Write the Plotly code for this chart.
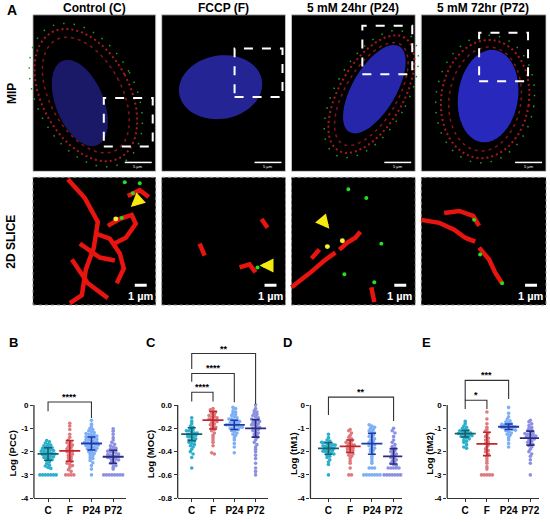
"""Colocalisation figure: microscopy panels (A) and log coefficient scatter plots (B-E)."""

from __future__ import annotations

import numpy as np
import plotly.graph_objects as go

W, H = 550, 522
FONT = "Liberation Sans, Arial, sans-serif"

# ---- data ----------------------------------------------------------------
groups = ["C", "F", "P24", "P72"]
conditions = ["Control (C)", "FCCP (F)", "5 mM 24hr (P24)", "5 mM 72hr (P72)"]

pcc_c = [-1.52, -1.58, -1.63, -1.68, -1.72, -1.75, -1.78, -1.8, -1.83, -1.86, -1.88, -1.9,
         -1.93, -1.95, -1.98, -2.0, -2.02, -2.05, -2.08, -2.1, -2.12, -2.15, -2.18, -2.2,
         -2.22, -2.25, -2.28, -2.3, -2.35, -2.4, -2.45, -2.52, -2.58, -2.62, -2.68, -2.72,
         -3.0, -3.0, -3.0, -3.0, -3.0, -3.0, -3.0]
pcc_f = [-0.78, -0.9, -1.05, -1.25, -1.38, -1.5, -1.58, -1.62, -1.68, -1.72, -1.78, -1.82,
         -1.88, -1.92, -1.97, -2.0, -2.05, -2.1, -2.15, -2.2, -2.25, -2.3, -2.38, -2.42,
         -2.5, -2.55, -2.6, -2.68, -2.78, -2.85, -3.0, -3.0, -3.0, -3.0]
pcc_p24 = [-0.65, -0.82, -0.92, -1.0, -1.05, -1.1, -1.15, -1.18, -1.22, -1.25, -1.28, -1.3,
           -1.33, -1.36, -1.38, -1.4, -1.43, -1.46, -1.48, -1.5, -1.53, -1.56, -1.58, -1.6,
           -1.62, -1.65, -1.67, -1.7, -1.72, -1.75, -1.78, -1.8, -1.82, -1.85, -1.88, -1.9,
           -1.93, -1.96, -2.0, -2.04, -2.08, -2.12, -2.18, -2.25, -2.3, -2.38, -2.48, -2.6,
           -2.75, -3.0]
pcc_p72 = [-1.02, -1.12, -1.25, -1.4, -1.5, -1.6, -1.68, -1.75, -1.8, -1.85, -1.88, -1.92,
           -1.95, -1.98, -2.0, -2.03, -2.06, -2.1, -2.12, -2.15, -2.18, -2.2, -2.22, -2.25,
           -2.28, -2.3, -2.33, -2.36, -2.4, -2.45, -2.5, -2.55, -2.6, -2.68, -2.75,
           -3.0, -3.0, -3.0, -3.0, -3.0, -3.0, -3.0, -3.0]

moc_c = [-0.11, -0.14, -0.16, -0.18, -0.19, -0.2, -0.21, -0.22, -0.22, -0.23, -0.24, -0.24,
         -0.25, -0.25, -0.26, -0.26, -0.27, -0.27, -0.28, -0.29, -0.3, -0.3, -0.31, -0.32,
         -0.33, -0.34, -0.35, -0.36, -0.38, -0.4, -0.42, -0.45, -0.54]
moc_f = [-0.03, -0.04, -0.05, -0.06, -0.07, -0.08, -0.09, -0.1, -0.1, -0.11, -0.12, -0.12,
         -0.13, -0.14, -0.15, -0.16, -0.17, -0.18, -0.19, -0.2, -0.21, -0.22, -0.24, -0.26,
         -0.28, -0.3, -0.32, -0.35, -0.41, -0.42]
moc_p24 = [-0.02, -0.03, -0.05, -0.06, -0.07, -0.08, -0.09, -0.1, -0.11, -0.12, -0.12, -0.13,
           -0.14, -0.14, -0.15, -0.15, -0.16, -0.16, -0.17, -0.17, -0.17, -0.18, -0.18, -0.19,
           -0.19, -0.2, -0.2, -0.21, -0.21, -0.22, -0.23, -0.24, -0.25, -0.26, -0.28, -0.3,
           -0.33, -0.36, -0.41]
moc_p72 = [0.0, -0.03, -0.05, -0.06, -0.07, -0.08, -0.09, -0.1, -0.11, -0.12, -0.13, -0.13,
           -0.14, -0.15, -0.15, -0.16, -0.17, -0.17, -0.18, -0.19, -0.2, -0.2, -0.21, -0.22,
           -0.23, -0.24, -0.25, -0.26, -0.27, -0.28, -0.3, -0.32, -0.34, -0.36, -0.38, -0.4,
           -0.43, -0.46, -0.5, -0.54, -0.57, -0.6]

tm1_c = [-1.25, -1.4, -1.5, -1.55, -1.6, -1.62, -1.65, -1.68, -1.7, -1.72, -1.75, -1.78,
         -1.8, -1.82, -1.85, -1.88, -1.9, -1.92, -1.95, -1.98, -2.0, -2.02, -2.05, -2.1,
         -2.15, -2.2, -2.25, -2.35, -2.45, -2.55, -3.0]
tm1_f = [-1.05, -1.1, -1.2, -1.3, -1.38, -1.45, -1.5, -1.55, -1.6, -1.65, -1.7, -1.72,
         -1.75, -1.8, -1.85, -1.88, -1.9, -1.95, -2.0, -2.05, -2.1, -2.15, -2.2, -2.3,
         -2.4, -2.5, -2.7, -3.0, -3.0]
tm1_p24 = [-0.85, -0.9, -0.95, -1.0, -1.05, -1.1, -1.15, -1.2, -1.25, -1.3, -1.35, -1.4,
           -1.45, -1.5, -1.55, -1.6, -1.65, -1.7, -1.75, -1.8, -1.85, -1.9, -1.95, -2.0,
           -2.1, -2.2, -2.3, -2.4, -2.5, -2.7, -2.7, -2.7, -3.0, -3.0, -3.0, -3.0, -3.0,
           -3.0, -3.0]
tm1_p72 = [-1.0, -1.1, -1.2, -1.35, -1.5, -1.6, -1.7, -1.78, -1.85, -1.9, -1.95, -2.0,
           -2.05, -2.1, -2.15, -2.2, -2.25, -2.3, -2.35, -2.4, -2.45, -2.5, -2.55, -2.6,
           -2.7, -2.7, -2.7, -2.7, -2.7, -3.0, -3.0, -3.0, -3.0, -3.0, -3.0, -3.0, -3.0]

tm2_c = [-0.7, -0.8, -0.9, -0.95, -1.0, -1.05, -1.08, -1.1, -1.12, -1.15, -1.18, -1.2,
         -1.22, -1.24, -1.25, -1.27, -1.3, -1.32, -1.35, -1.38, -1.4, -1.45, -1.5, -1.55,
         -1.6, -1.7, -1.8, -1.85]
tm2_f = [-0.3, -0.6, -0.8, -0.95, -1.05, -1.12, -1.2, -1.28, -1.35, -1.42, -1.5, -1.58,
         -1.65, -1.72, -1.8, -1.88, -1.95, -2.0, -2.1, -2.2, -2.3, -2.4, -2.5, -2.65,
         -2.75, -3.0, -3.0, -3.0, -3.0, -3.0]
tm2_p24 = [-0.1, -0.35, -0.5, -0.6, -0.68, -0.72, -0.76, -0.8, -0.83, -0.86, -0.88, -0.9,
           -0.92, -0.94, -0.96, -0.98, -1.0, -1.02, -1.05, -1.08, -1.1, -1.15, -1.2, -1.25,
           -1.3, -1.4, -1.5, -1.65, -1.8]
tm2_p72 = [-0.65, -0.72, -0.8, -0.88, -0.95, -1.0, -1.05, -1.1, -1.15, -1.2, -1.22, -1.25,
           -1.28, -1.3, -1.33, -1.36, -1.4, -1.43, -1.46, -1.5, -1.55, -1.6, -1.65, -1.7,
           -1.75, -1.8, -1.9, -2.0, -2.1, -2.2, -2.35, -2.5, -3.0]

# mean and SD bars as drawn
pcc_mean, pcc_sd = [-2.1, -1.97, -1.65, -2.22], [0.27, 0.45, 0.28, 0.28]
moc_mean, moc_sd = [-0.25, -0.13, -0.17, -0.20], [0.055, 0.075, 0.04, 0.075]
tm1_mean, tm1_sd = [-1.86, -1.77, -1.66, -2.2], [0.25, 0.27, 0.45, 0.33]
tm2_mean, tm2_sd = [-1.23, -1.67, -0.93, -1.42], [0.14, 0.5, 0.12, 0.3]

# significance brackets: (from group, to group, top, left leg end, right leg end, label)
pcc_sig = [(0, 2, 0.13, -0.26, -0.55, "****")]
moc_sig = [(0, 1, 0.11, 0.03, 0.03, "****"),
           (0, 2, 0.272, 0.2, 0.025, "****"),
           (0, 3, 0.443, 0.31, 0.01, "**")]
tm1_sig = [(0, 3, 0.34, -0.43, -0.68, "**")]
tm2_sig = [(0, 2, 1.06, 0.21, 0.26, "***"),
           (0, 1, 0.21, -0.17, -0.17, "*")]

y_ticks_log = [0, -1, -2, -3, -4]
y_ticks_moc = [0.0, -0.2, -0.4, -0.6, -0.8]

# ---- styling -------------------------------------------------------------
point_colors = ["#2ab0cc", "#de7a7e", "#7eaef5", "#8c90e0"]
bar_colors = ["#17606e", "#c0262c", "#1d3aa6", "#2c2a80"]
AXIS = "#333333"


def px(x):
    return x / W


def py(y):
    return 1 - y / H


def label(x, y, text, size, color="black", angle=0, bold=True):
    """Text centred on a pixel position of the page."""
    return dict(x=px(x), y=py(y), xref="paper", yref="paper", text=text, showarrow=False,
                xanchor="center", yanchor="middle", textangle=angle,
                font=dict(family=FONT, size=size, color=color,
                          weight="bold" if bold else "normal"))


def swarm(values, bin_size, dx):
    """Spread points sharing a row sideways, centred on the category."""
    vals = np.asarray(values, dtype=float)
    bins = np.round(vals / bin_size).astype(int)
    offsets = np.zeros(len(vals))
    for b in np.unique(bins):
        idx = np.where(bins == b)[0]
        n = len(idx)
        offsets[idx] = (np.arange(n) - (n - 1) / 2) * dx
    return offsets


panels = [
    dict(letter="B", title="Log (PCC)", data=[pcc_c, pcc_f, pcc_p24, pcc_p72],
         mean=pcc_mean, sd=pcc_sd, sig=pcc_sig, ticks=y_ticks_log,
         ticktext=["0", "-1", "-2", "-3", "-4"], xpix=(34, 126), xr=(-0.65, 3.58),
         scale=23.5, ybot=-4, letter_x=14, title_x=13),
    dict(letter="C", title="Log (MOC)", data=[moc_c, moc_f, moc_p24, moc_p72],
         mean=moc_mean, sd=moc_sd, sig=moc_sig, ticks=y_ticks_moc,
         ticktext=["0.0", "-0.2", "-0.4", "-0.6", "-0.8"], xpix=(178, 268), xr=(-0.66, 3.56),
         scale=117.5, ybot=-0.8, letter_x=151, title_x=151),
    dict(letter="D", title="Log (tM1)", data=[tm1_c, tm1_f, tm1_p24, tm1_p72],
         mean=tm1_mean, sd=tm1_sd, sig=tm1_sig, ticks=y_ticks_log,
         ticktext=["0", "-1", "-2", "-3", "-4"], xpix=(311, 403), xr=(-0.83, 3.4),
         scale=23.5, ybot=-4, letter_x=288, title_x=294),
    dict(letter="E", title="Log (tM2)", data=[tm2_c, tm2_f, tm2_p24, tm2_p72],
         mean=tm2_mean, sd=tm2_sd, sig=tm2_sig, ticks=y_ticks_log,
         ticktext=["0", "-1", "-2", "-3", "-4"], xpix=(448, 540), xr=(-0.83, 3.4),
         scale=23.5, ybot=-4, letter_x=427, title_x=430),
]

PLOT_TOP, PLOT_BOTTOM = 345, 503

fig = go.Figure()
shapes = []
annotations = []
layout_axes = {}

for k, p in enumerate(panels, start=1):
    sfx = "" if k == 1 else str(k)
    xref, yref = f"x{sfx}", f"y{sfx}"
    ytop = p["ybot"] + (PLOT_BOTTOM - PLOT_TOP) / p["scale"]
    bin_size = 3.0 / p["scale"]

    for i, vals in enumerate(p["data"]):
        fig.add_trace(go.Scatter(
            x=i + swarm(vals, bin_size, 0.125), y=vals, mode="markers",
            marker=dict(size=3.6, color=point_colors[i], line=dict(width=0)),
            xaxis=xref, yaxis=yref, showlegend=False, hoverinfo="skip",
        ))
    for i in range(len(groups)):
        fig.add_trace(go.Scatter(
            x=[i], y=[p["mean"][i]], mode="markers",
            marker=dict(symbol="line-ew", size=15, line=dict(width=1.8, color=bar_colors[i])),
            error_y=dict(type="data", array=[p["sd"][i]], width=4, thickness=1.6,
                         color=bar_colors[i]),
            xaxis=xref, yaxis=yref, showlegend=False, hoverinfo="skip",
        ))

    layout_axes[f"xaxis{sfx}"] = dict(
        domain=[px(p["xpix"][0]), px(p["xpix"][1])], range=list(p["xr"]), anchor=yref,
        tickvals=list(range(len(groups))), ticktext=groups, ticks="outside", ticklen=3,
        tickwidth=1.2, tickcolor=AXIS, showline=True, linecolor=AXIS, linewidth=1.3,
        showgrid=False, zeroline=False,
        tickfont=dict(family=FONT, size=10, color="black", weight="bold"),
    )
    layout_axes[f"yaxis{sfx}"] = dict(
        domain=[py(PLOT_BOTTOM), py(PLOT_TOP)], range=[p["ybot"], ytop], anchor=xref,
        tickvals=p["ticks"], ticktext=p["ticktext"], ticks="outside", ticklen=3,
        tickwidth=1.2, tickcolor=AXIS, showline=False, showgrid=False, zeroline=False,
        tickfont=dict(family=FONT, size=8, color="black", weight="bold"),
    )
    # y axis line only over the labelled range
    shapes.append(dict(type="line", xref=f"{xref} domain", yref=yref, x0=0, x1=0,
                       y0=p["ybot"], y1=p["ticks"][0], line=dict(color=AXIS, width=1.3)))

    for a, b, top, left_end, right_end, stars in p["sig"]:
        shapes.append(dict(type="path", xref=xref, yref=yref,
                           path=f"M {a},{left_end} L {a},{top} L {b},{top} L {b},{right_end}",
                           line=dict(color=AXIS, width=1.1)))
        annotations.append(dict(x=(a + b) / 2, y=top, xref=xref, yref=yref, text=stars,
                                showarrow=False, xanchor="center", yanchor="bottom", yshift=-2,
                                font=dict(family=FONT, size=9, color="black", weight="bold")))

    annotations.append(label(p["letter_x"], 346, p["letter"], 13))
    annotations.append(label(p["title_x"], 458, p["title"], 9.5, angle=-90))

# ---- panel A: microscopy tiles (drawn schematically) ---------------------
col_x = [(33, 156), (162, 286), (292, 416), (422, 547)]
row1_y = (15, 173)
row2_y = (179, 308)
col_centres = [95, 224, 354, 484]

nuclei = [(80, 104, 24, 46, -22, "#1c1c72"), (221, 88, 42, 32, -10, "#2828a4"),
          (375, 90, 22, 50, 30, "#2a2abc"), (489, 97, 30, 47, 8, "#2c2cd2")]
halos = [(86, 96, 44, 72, -28), None, (372, 95, 32, 66, 30), (486, 100, 44, 60, 8)]
dash_boxes = [(104, 99, 153, 148), (235, 49, 283, 98), (363, 26, 413, 75), (480, 33, 529, 82)]

slice_tubes = [
    [(68, 181), (85, 200), (98, 224), (94, 250), (86, 272), (82, 298), (70, 306)],
    [(108, 228), (120, 221), (132, 217), (136, 226), (126, 240), (114, 246)],
    [(96, 236), (110, 241), (120, 256), (124, 271), (117, 286)],
    [(128, 198), (140, 192), (149, 199)],
    [(80, 246), (100, 260), (115, 263)],
    [(72, 262), (88, 286), (108, 301)],
    [(200, 246), (205, 258)], [(240, 270), (250, 267), (256, 275)], [(262, 221), (268, 230)],
    [(292, 290), (310, 276), (325, 263), (336, 255)],
    [(340, 252), (348, 245), (356, 240), (361, 234)],
    [(312, 261), (320, 252)], [(372, 290), (375, 305)],
    [(422, 222), (440, 225), (455, 232), (466, 240), (476, 244)],
    [(445, 215), (460, 213), (474, 218), (480, 228)],
    [(480, 250), (490, 262), (496, 275), (503, 286)],
]
green_spots = [(133, 195), (140, 185), (125, 184), (122, 220), (349, 191), (367, 200),
               (382, 246), (345, 277), (375, 285), (475, 222), (481, 257), (503, 286),
               (258, 270)]
yellow_spots = [(116, 221), (343, 243), (328, 249)]
arrows = [((131, 209), (10, -9)), ((260, 268), (14, 0)), ((330, 231), (-9, -11))]


def ellipse_path(cx, cy, rx, ry, angle):
    t = np.linspace(0, 2 * np.pi, 49)
    a = np.deg2rad(angle)
    xs = cx + rx * np.cos(t) * np.cos(a) - ry * np.sin(t) * np.sin(a)
    ys = cy + rx * np.cos(t) * np.sin(a) + ry * np.sin(t) * np.cos(a)
    pts = [f"{px(x):.4f},{py(y):.4f}" for x, y in zip(xs, ys)]
    return "M " + " L ".join(pts) + " Z"


def poly_path(points):
    return "M " + " L ".join(f"{px(x):.4f},{py(y):.4f}" for x, y in points)


for c, (x0, x1) in enumerate(col_x):
    shapes.append(dict(type="rect", xref="paper", yref="paper", x0=px(x0), x1=px(x1),
                       y0=py(row1_y[1]), y1=py(row1_y[0]), fillcolor="black",
                       line=dict(color="#cfcfcf", width=0.8), layer="below"))
    shapes.append(dict(type="rect", xref="paper", yref="paper", x0=px(x0), x1=px(x1),
                       y0=py(row2_y[1]), y1=py(row2_y[0]), fillcolor="black",
                       line=dict(color="#9a9a9a", width=1, dash="dot"), layer="below"))
    cx, cy, rx, ry, ang, col = nuclei[c]
    if halos[c] is not None:
        hx, hy, hrx, hry, hang = halos[c]
        shapes.append(dict(type="path", xref="paper", yref="paper",
                           path=ellipse_path(hx, hy, hrx, hry, hang),
                           line=dict(color="#a81a1a", width=2, dash="2px,3px")))
        shapes.append(dict(type="path", xref="paper", yref="paper",
                           path=ellipse_path(hx, hy, hrx * 0.82, hry * 0.88, hang),
                           line=dict(color="#8a1414", width=1.5, dash="3px,4px")))
        shapes.append(dict(type="path", xref="paper", yref="paper",
                           path=ellipse_path(hx, hy, hrx * 1.12, hry * 1.08, hang),
                           line=dict(color="#1fa01f", width=1.5, dash="1.5px,9px")))
    shapes.append(dict(type="path", xref="paper", yref="paper",
                       path=ellipse_path(cx, cy, rx, ry, ang), fillcolor=col,
                       line=dict(width=0), opacity=0.9))
    bx0, by0, bx1, by1 = dash_boxes[c]
    shapes.append(dict(type="rect", xref="paper", yref="paper", x0=px(bx0), x1=px(bx1),
                       y0=py(by1), y1=py(by0), line=dict(color="white", width=2, dash="dash")))
    # 5 um scale bar
    shapes.append(dict(type="line", xref="paper", yref="paper", x0=px(x1 - 31), x1=px(x1 - 4),
                       y0=py(164), y1=py(164), line=dict(color="white", width=1.5)))
    annotations.append(label(x1 - 17.5, 168.5, "5 µm", 4, color="white", bold=False))
    # 1 um scale bar
    shapes.append(dict(type="line", xref="paper", yref="paper", x0=px(x1 - 21), x1=px(x1 - 9),
                       y0=py(288), y1=py(288), line=dict(color="white", width=3)))
    annotations.append(label(x1 - 15, 299, "1 µm", 11, color="white"))
    annotations.append(label(col_centres[c], 8, conditions[c], 12))

for tube in slice_tubes:
    shapes.append(dict(type="path", xref="paper", yref="paper", path=poly_path(tube),
                       line=dict(color="#e8140f", width=4.5)))
for sx, sy in green_spots:
    shapes.append(dict(type="circle", xref="paper", yref="paper", x0=px(sx - 2), x1=px(sx + 2),
                       y0=py(sy + 2), y1=py(sy - 2), fillcolor="#22e022", line=dict(width=0)))
for sx, sy in yellow_spots:
    shapes.append(dict(type="circle", xref="paper", yref="paper", x0=px(sx - 2.5),
                       x1=px(sx + 2.5), y0=py(sy + 2.5), y1=py(sy - 2.5),
                       fillcolor="#f2f23a", line=dict(width=0)))
for (hx, hy), (ax, ay) in arrows:
    annotations.append(dict(x=px(hx), y=py(hy), xref="paper", yref="paper", ax=ax, ay=ay,
                            showarrow=True, arrowhead=2, arrowsize=0.7, arrowwidth=4,
                            arrowcolor="#f5ea10", text=""))

annotations.append(label(12, 10, "A", 14))
annotations.append(label(12, 94, "MIP", 12, angle=-90))
annotations.append(label(11, 244, "2D SLICE", 12, angle=-90))

fig.update_layout(
    width=W, height=H, margin=dict(l=0, r=0, t=0, b=0),
    paper_bgcolor="white", plot_bgcolor="white", showlegend=False,
    shapes=shapes, annotations=annotations, **layout_axes,
)

# the page body has a default margin; drop it so the figure sits at the window corner
fig.write_html("out.html", config={"displayModeBar": False},
               post_script="document.body.style.margin = '0';")
